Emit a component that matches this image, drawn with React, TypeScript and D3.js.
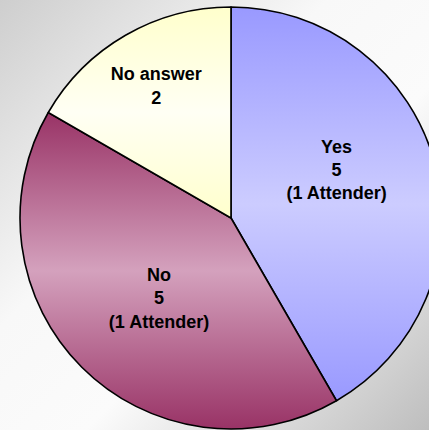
import React from "react";
import * as d3 from "d3";

const categories = ["Yes", "No", "No answer"];
const values = [5, 5, 2];
const subLabels = ["(1 Attender)", "(1 Attender)", ""];

const W = 429;
const H = 430;
const CX = 231;
const CY = 218;
const R = 211;

const gradients = [
  { id: "gYes", edge: "#9999ff", mid: "#ccccff" },
  { id: "gNo", edge: "#993366", mid: "#d4a1bd" },
  { id: "gNa", edge: "#ffffcc", mid: "#fffff4" },
];

// label placement (radius fraction, angle tweak in degrees) – styling only
const labelPlace = [
  { k: 0.55, dAng: -9.5 },
  { k: 0.51, dAng: -3 },
  { k: 0.72, dAng: 0.5 },
];

export default function App() {
  const pie = d3.pie<number>().sort(null).value((d) => d);
  const arcs = pie(values);
  const arc = d3.arc<d3.PieArcDatum<number>>().innerRadius(0).outerRadius(R);
  const fontSize = 18;
  const lineH = 23.3;

  return (
    <svg
      width={W}
      height={H}
      style={{ position: "absolute", left: 0, top: 0, display: "block" }}
    >
      <defs>
        <linearGradient id="bg" x1="0" y1="0" x2="1" y2="1">
          <stop offset="0" stopColor="#cecece" />
          <stop offset="0.38" stopColor="#f8f8f8" />
          <stop offset="0.6" stopColor="#fbfbfb" />
          <stop offset="1" stopColor="#bebebe" />
        </linearGradient>
        {gradients.map((g) => (
          <linearGradient key={g.id} id={g.id} x1="0" y1="0" x2="0" y2="1">
            <stop offset="0" stopColor={g.edge} />
            <stop offset="0.5" stopColor={g.mid} />
            <stop offset="1" stopColor={g.edge} />
          </linearGradient>
        ))}
      </defs>
      <rect x={0} y={0} width={W} height={H} fill="url(#bg)" />
      <g transform={`translate(${CX},${CY})`}>
        {arcs.map((a, i) => (
          <path
            key={i}
            d={arc(a) || ""}
            fill={`url(#${gradients[i].id})`}
            stroke="#000"
            strokeWidth={1.6}
            strokeLinejoin="round"
          />
        ))}
        {arcs.map((a, i) => {
          const mid = (a.startAngle + a.endAngle) / 2 + (labelPlace[i].dAng * Math.PI) / 180;
          const rr = labelPlace[i].k * R;
          const x = rr * Math.sin(mid);
          const y = -rr * Math.cos(mid);
          const lines = [categories[i], String(values[i])];
          if (subLabels[i]) lines.push(subLabels[i]);
          const y0 = y - ((lines.length - 1) * lineH) / 2;
          return (
            <text
              key={"t" + i}
              textAnchor="middle"
              fontFamily="Liberation Sans, Arial, sans-serif"
              fontWeight="bold"
              fontSize={fontSize}
              fill="#000"
            >
              {lines.map((l, j) => (
                <tspan key={j} x={x} y={y0 + j * lineH} dy="0.35em">
                  {l}
                </tspan>
              ))}
            </text>
          );
        })}
      </g>
    </svg>
  );
}
